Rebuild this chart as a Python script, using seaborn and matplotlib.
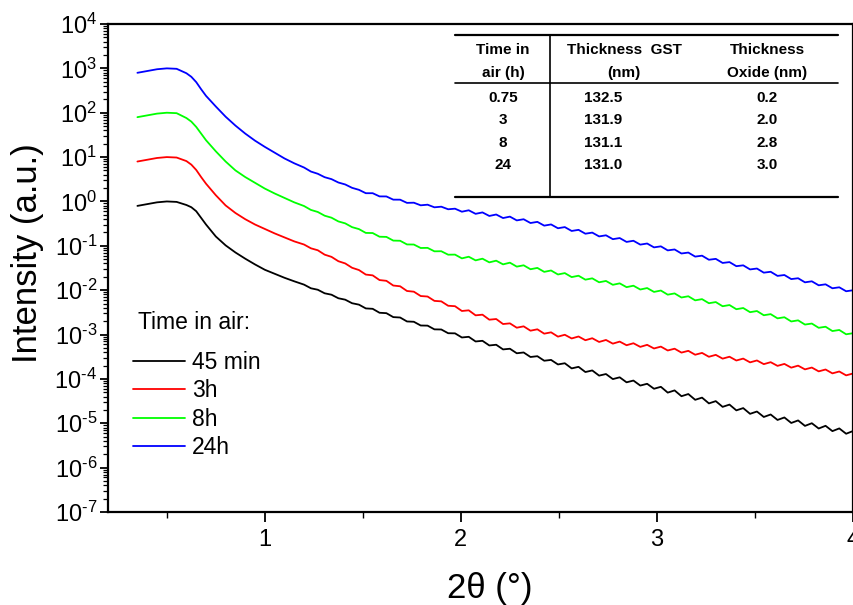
import numpy as np
import pandas as pd
import matplotlib
matplotlib.use("Agg")
import matplotlib.pyplot as plt
import seaborn as sns
from matplotlib.ticker import LogLocator, NullFormatter, FuncFormatter
from matplotlib.lines import Line2D

# ---------------- data ----------------
two_theta = [0.35, 0.40, 0.45, 0.50, 0.55, 0.60, 0.625, 0.65, 0.675, 0.70,
             0.75, 0.80, 0.85, 0.90, 0.95, 1.00, 1.05, 1.10, 1.15,
             1.200, 1.235, 1.270, 1.305, 1.340, 1.375, 1.410, 1.445, 1.480, 1.515,
             1.550, 1.585, 1.620, 1.655, 1.690, 1.725, 1.760, 1.795, 1.830, 1.865,
             1.900, 1.935, 1.970, 2.005, 2.040, 2.075, 2.110, 2.145, 2.180, 2.215,
             2.250, 2.285, 2.320, 2.355, 2.390, 2.425, 2.460, 2.495, 2.530, 2.565,
             2.600, 2.635, 2.670, 2.705, 2.740, 2.775, 2.810, 2.845, 2.880, 2.915,
             2.950, 2.985, 3.020, 3.055, 3.090, 3.125, 3.160, 3.195, 3.230, 3.265,
             3.300, 3.335, 3.370, 3.405, 3.440, 3.475, 3.510, 3.545, 3.580, 3.615,
             3.650, 3.685, 3.720, 3.755, 3.790, 3.825, 3.860, 3.895, 3.930, 3.965,
             4.000]

# log10(intensity) for each exposure time
log_i_45min = [-0.10, -0.06, -0.02, 0.00, -0.01, -0.08, -0.13, -0.22, -0.37, -0.52,
               -0.79, -0.99, -1.15, -1.29, -1.42, -1.54, -1.63, -1.72, -1.80,
               -1.875, -1.957, -1.990, -2.070, -2.102, -2.182, -2.214, -2.294, -2.326, -2.411,
               -2.420, -2.509, -2.518, -2.607, -2.616, -2.705, -2.712, -2.796, -2.799, -2.883,
               -2.886, -2.970, -2.973, -3.066, -3.051, -3.156, -3.141, -3.246, -3.230, -3.335,
               -3.320, -3.422, -3.404, -3.506, -3.488, -3.590, -3.572, -3.674, -3.647, -3.763,
               -3.728, -3.845, -3.809, -3.926, -3.890, -4.004, -3.964, -4.077, -4.037, -4.150,
               -4.110, -4.222, -4.178, -4.309, -4.259, -4.390, -4.341, -4.471, -4.422, -4.552,
               -4.501, -4.630, -4.579, -4.709, -4.658, -4.787, -4.735, -4.858, -4.802, -4.925,
               -4.869, -4.993, -4.936, -5.059, -4.999, -5.118, -5.057, -5.177, -5.116, -5.236,
               -5.175]

log_i_3h = [0.90, 0.94, 0.98, 1.00, 0.99, 0.91, 0.83, 0.71, 0.55, 0.40,
            0.14, -0.09, -0.26, -0.40, -0.52, -0.62, -0.72, -0.81, -0.90,
            -0.971, -1.056, -1.100, -1.199, -1.249, -1.347, -1.397, -1.495, -1.546, -1.648,
            -1.666, -1.772, -1.789, -1.895, -1.912, -2.018, -2.034, -2.132, -2.143, -2.241,
            -2.252, -2.351, -2.361, -2.469, -2.454, -2.567, -2.552, -2.665, -2.650, -2.763,
            -2.748, -2.846, -2.815, -2.913, -2.882, -2.980, -2.950, -3.047, -3.005, -3.088,
            -3.044, -3.128, -3.083, -3.167, -3.122, -3.205, -3.159, -3.241, -3.196, -3.278,
            -3.232, -3.314, -3.272, -3.359, -3.319, -3.407, -3.367, -3.455, -3.414, -3.501,
            -3.458, -3.543, -3.500, -3.585, -3.542, -3.627, -3.584, -3.667, -3.623, -3.706,
            -3.662, -3.746, -3.701, -3.785, -3.744, -3.830, -3.788, -3.875, -3.833, -3.920,
            -3.878]

log_i_8h = [1.90, 1.94, 1.98, 2.00, 1.99, 1.88, 1.80, 1.68, 1.53, 1.38,
            1.13, 0.90, 0.70, 0.55, 0.42, 0.29, 0.18, 0.08, -0.02,
            -0.103, -0.191, -0.237, -0.321, -0.366, -0.450, -0.494, -0.579, -0.623, -0.709,
            -0.712, -0.795, -0.799, -0.882, -0.886, -0.969, -0.971, -1.049, -1.046, -1.124,
            -1.122, -1.200, -1.198, -1.283, -1.246, -1.328, -1.290, -1.373, -1.335, -1.418,
            -1.380, -1.469, -1.439, -1.528, -1.498, -1.587, -1.556, -1.646, -1.615, -1.705,
            -1.674, -1.763, -1.733, -1.822, -1.792, -1.879, -1.846, -1.932, -1.899, -1.985,
            -1.952, -2.039, -2.008, -2.101, -2.073, -2.165, -2.137, -2.229, -2.202, -2.294,
            -2.268, -2.362, -2.335, -2.429, -2.402, -2.496, -2.470, -2.565, -2.540, -2.635,
            -2.610, -2.705, -2.680, -2.775, -2.752, -2.848, -2.824, -2.921, -2.897, -2.994,
            -2.970]

log_i_24h = [2.90, 2.94, 2.98, 3.00, 2.99, 2.89, 2.81, 2.69, 2.53, 2.38,
             2.14, 1.91, 1.71, 1.53, 1.37, 1.23, 1.10, 0.97, 0.86,
             0.765, 0.674, 0.624, 0.547, 0.503, 0.427, 0.383, 0.307, 0.262, 0.186,
             0.186, 0.114, 0.113, 0.041, 0.040, -0.032, -0.028, -0.087, -0.073, -0.132,
             -0.118, -0.176, -0.163, -0.231, -0.199, -0.279, -0.247, -0.327, -0.294, -0.374,
             -0.342, -0.427, -0.401, -0.486, -0.460, -0.545, -0.518, -0.604, -0.578, -0.665,
             -0.640, -0.727, -0.702, -0.788, -0.763, -0.850, -0.825, -0.912, -0.886, -0.973,
             -0.948, -1.035, -1.012, -1.103, -1.082, -1.173, -1.152, -1.243, -1.222, -1.314,
             -1.294, -1.386, -1.367, -1.459, -1.440, -1.532, -1.512, -1.605, -1.585, -1.678,
             -1.658, -1.750, -1.731, -1.823, -1.800, -1.890, -1.868, -1.957, -1.935, -2.024,
             -2.002]

sample_labels = ["45 min", "3h", "8h", "24h"]
line_colors = ["#000000", "#FF0000", "#00FF00", "#0000FF"]

table_header = [["Time in", "air (h)"], ["Thickness  GST", "(nm)"], ["Thickness", "Oxide (nm)"]]
table_time = ["0.75", "3", "8", "24"]
table_gst = ["132.5", "131.9", "131.1", "131.0"]
table_oxide = ["0.2", "2.0", "2.8", "3.0"]

# ---------------- styling ----------------
sns.set_theme(style="ticks")
plt.rcParams.update({
    "font.family": ["Liberation Sans", "DejaVu Sans"],
    "mathtext.fontset": "custom",
    "mathtext.rm": "Liberation Sans",
    "mathtext.it": "Liberation Sans:italic",
    "mathtext.bf": "Liberation Sans:bold",
    "axes.unicode_minus": False,
})

frames = []
for lab, logs in zip(sample_labels, [log_i_45min, log_i_3h, log_i_8h, log_i_24h]):
    frames.append(pd.DataFrame({"two_theta": two_theta,
                                "intensity": np.power(10.0, np.array(logs)),
                                "sample": lab}))
df = pd.concat(frames, ignore_index=True)

W, H = 854, 605
fig = plt.figure(figsize=(W / 100, H / 100), dpi=100)
fig.patch.set_facecolor("white")
ax = fig.add_axes([108 / W, 93 / H, 745 / W, 488 / H])
ax.set_facecolor("white")

sns.lineplot(data=df, x="two_theta", y="intensity", hue="sample",
             hue_order=sample_labels, palette=line_colors, estimator=None,
             sort=False, linewidth=1.3, legend=False, ax=ax)

ax.set_yscale("log")
ax.set_ylim(1e-7, 1e4)
ax.set_xlim(0.2, 4.0)

HYPHEN = "\u2010"


def sci_label(v, pos):
    e = int(round(np.log10(v)))
    if e < 0:
        return "$\\mathregular{10^{" + HYPHEN + str(-e) + "}}$"
    return "$\\mathregular{10^{" + str(e) + "}}$"


ax.yaxis.set_major_locator(LogLocator(base=10, numticks=30))
ax.yaxis.set_minor_locator(LogLocator(base=10, subs=np.arange(2, 10), numticks=100))
ax.yaxis.set_minor_formatter(NullFormatter())
ax.yaxis.set_major_formatter(FuncFormatter(sci_label))

ax.set_xticks([1, 2, 3, 4])
ax.set_xticklabels(["1", "2", "3", "4"])
ax.set_xticks([0.5, 1.5, 2.5, 3.5], minor=True)

for s in ax.spines.values():
    s.set_visible(True)
    s.set_linewidth(1.6)
    s.set_color("black")

ax.tick_params(axis="y", which="major", direction="out", length=5.8, width=1.3,
               labelsize=17, pad=2, colors="black")
ax.tick_params(axis="y", which="minor", direction="out", length=3.4, width=0.9,
               colors="black")
ax.tick_params(axis="x", which="major", direction="out", length=7, width=1.3,
               labelsize=17, pad=5, colors="black")
ax.tick_params(axis="x", which="minor", direction="out", length=4.5, width=1.0,
               colors="black")

ax.set_xlabel("2θ (°)", fontsize=25, color="black")
ax.set_ylabel("Intensity (a.u.)", fontsize=25, color="black")
ax.xaxis.set_label_coords(0.512, -0.122)
ax.yaxis.set_label_coords(-0.086, 0.530)

# legend: title as its own text, entries below it
ax.text(0.040, 0.388, "Time in air:", transform=ax.transAxes, fontsize=16.5,
        ha="left", va="center", color="black")
handles = [Line2D([], [], color=c, lw=1.3) for c in line_colors]
leg = ax.legend(handles, sample_labels, loc="upper left",
                bbox_to_anchor=(0.034, 0.329), frameon=False, fontsize=16.5,
                handlelength=2.27, handletextpad=0.3,
                labelspacing=0.22, borderpad=0, borderaxespad=0)
for t in leg.get_texts():
    t.set_color("black")

# ---------------- inset table (pixel layout overlay) ----------------
ov = fig.add_axes([0, 0, 1, 1], facecolor="none")
ov.set_xlim(0, W)
ov.set_ylim(H, 0)
ov.axis("off")

x0, x1 = 455, 838
ov.plot([x0, x1], [35, 35], color="black", lw=1.6)
ov.plot([x0, x1], [83, 83], color="black", lw=1.2)
ov.plot([x0, x1], [197, 197], color="black", lw=1.6)
ov.plot([550, 550], [35, 197], color="black", lw=1.2)

col_head_x = [503, 624, 767]
col_data_x = [503, 603, 767]
tkw = dict(ha="center", va="center", fontsize=11, fontweight="bold", color="black")
for cx, (l1, l2) in zip(col_head_x, table_header):
    ov.text(cx, 50, l1, **tkw)
    ov.text(cx, 73, l2, **tkw)
row_y = [98, 120, 143, 165]
for ry, a, b, c in zip(row_y, table_time, table_gst, table_oxide):
    ov.text(col_data_x[0], ry, a, **tkw)
    ov.text(col_data_x[1], ry, b, **tkw)
    ov.text(col_data_x[2], ry, c, **tkw)

fig.savefig("out.png", dpi=100, facecolor="white")
